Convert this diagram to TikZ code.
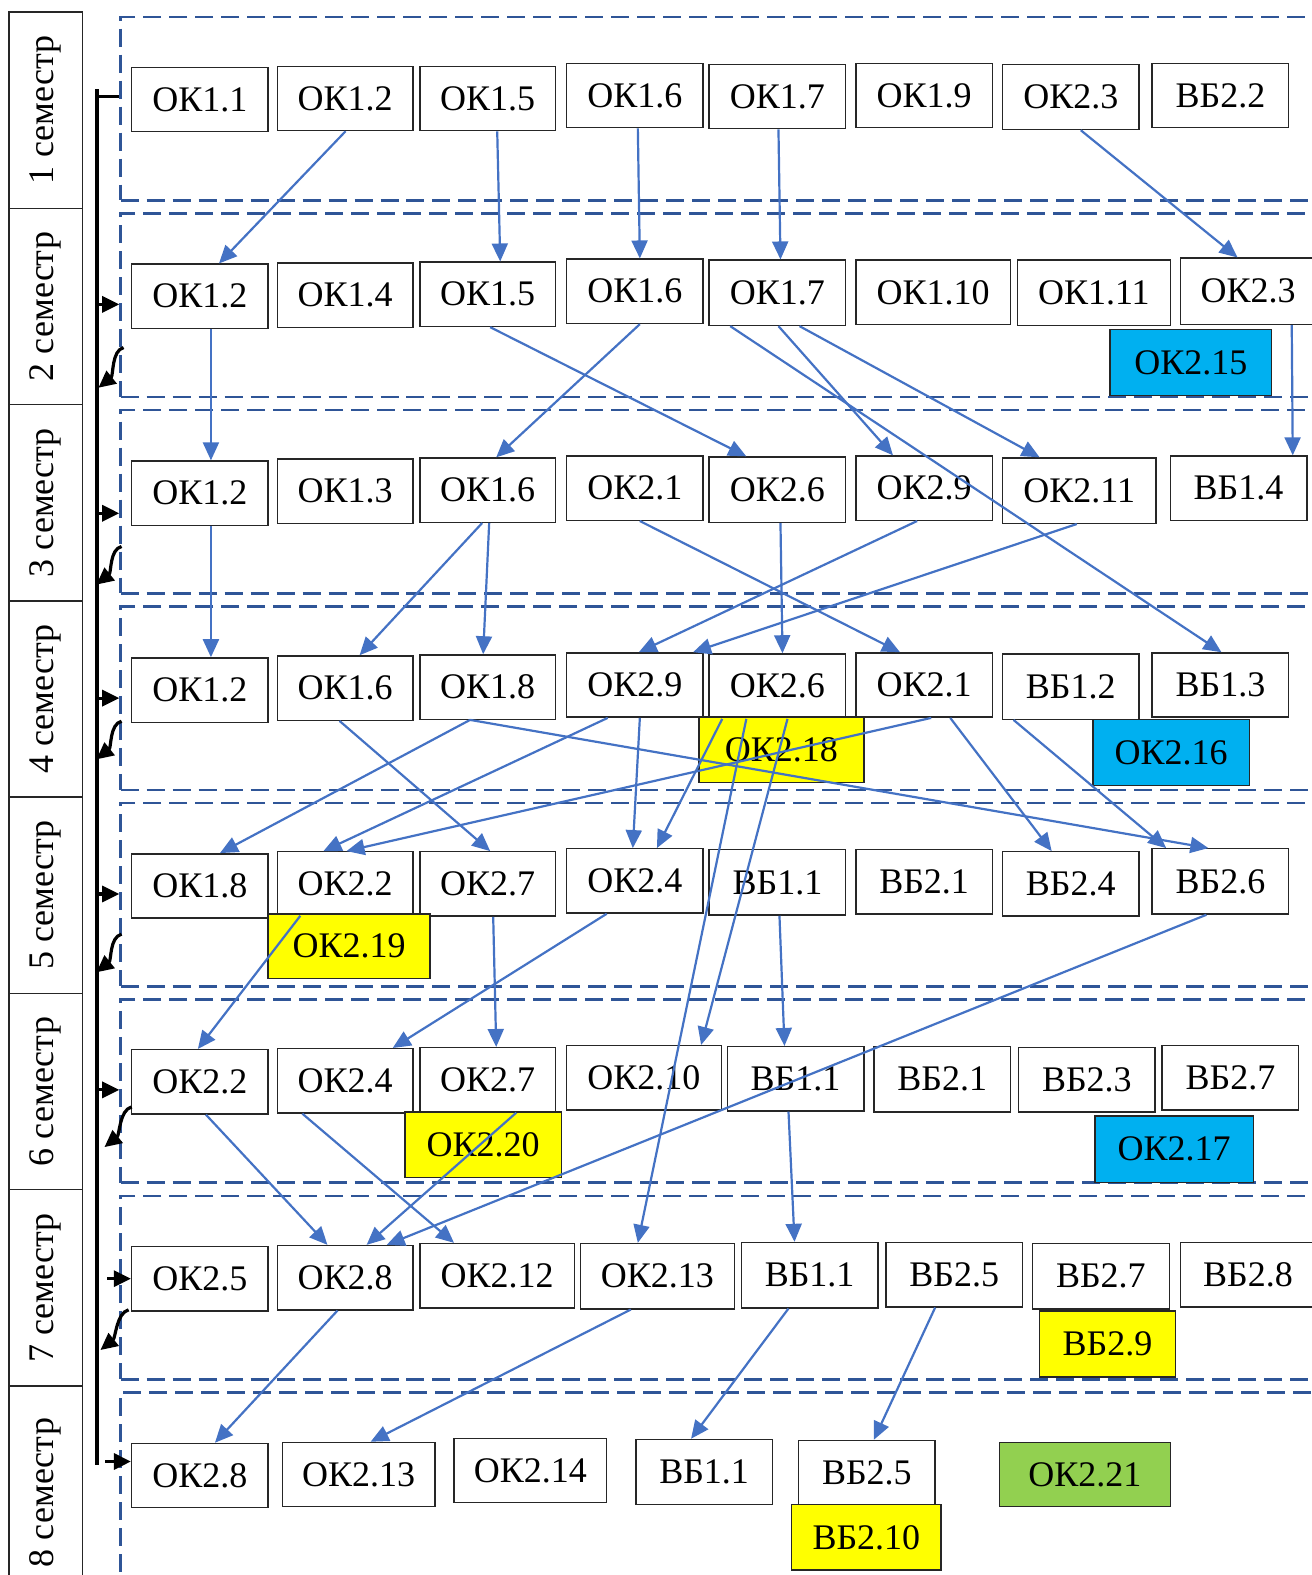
\documentclass[tikz,border=0pt]{standalone}
\usepackage{fontspec}
\setmainfont{Liberation Serif}
\usetikzlibrary{arrows.meta}
\definecolor{linkblue}{HTML}{4472C4}
\definecolor{framecol}{HTML}{2F5597}
\definecolor{ltblue}{HTML}{00B0F0}
\definecolor{ylw}{HTML}{FFFF00}
\definecolor{grn}{HTML}{92D050}
\newcommand\pxu{0.5023pt}
% \kbox[style]{name}{x1}{y1}{x2}{y2}{text}: a course box given by its corners
\newcommand\kbox[7][]{%
  \node[cellbox,#1,minimum width={(#5-#3)*\pxu},minimum height={(#6-#4)*\pxu}]
    (#2) at ({(#3+#5)/2},{(#4+#6)/2}) {#7};}
\tikzset{
  cellbox/.style={draw=black!85,line width=0.7pt,fill=white,inner sep=0pt,
    font=\fontsize{18}{20}\selectfont},
  cyanbox/.style={fill=ltblue},
  ylwbox/.style={fill=ylw},
  grnbox/.style={fill=grn},
  semframe/.style={draw=framecol,line width=1.3pt,dash pattern=on 9pt off 4pt,inner sep=0pt},
  semcell/.style={draw=black!85,line width=0.7pt,inner sep=0pt},
  semtext/.style={rotate=90,font=\fontsize{18}{20}\selectfont,inner sep=0pt},
  linkarrow/.style={draw=linkblue,line width=1.1pt,-{Triangle[length=9pt,width=8pt]}},
  spineline/.style={line width=2pt},
  feedarrow/.style={line width=1.6pt,-{Triangle[length=8.5pt,width=8pt]}},
  retarrow/.style={line width=1.6pt,-{Triangle[length=8.5pt,width=8pt]}},
}
\begin{document}
\begin{tikzpicture}[x=0.5023pt,y=-0.5023pt]
\useasboundingbox (0,0) rectangle (1306,1568);
\clip (0,0) rectangle (1306,1568);

% semester frames
\foreach \k in {1,...,7}{
  \pgfmathsetmacro\ftop{17+195.6*(\k-1)}
  \node[semframe,minimum width={1210*\pxu},minimum height={182.5*\pxu}] (fr\k) at (725,{\ftop+91.25}) {};
}
\node[semframe,minimum width={1210*\pxu},minimum height={214*\pxu}] (fr8) at (725,1493.2) {};

% semester labels
\foreach \k in {1,...,7}{
  \pgfmathsetmacro\ltop{12+195.4*(\k-1)}
  \node[semcell,minimum width={73*\pxu},minimum height={195.4*\pxu}] (lab\k) at (45.5,{\ltop+97.7}) {};
  \node[semtext] (labt\k) at (lab\k.center) {\k\ семестр};
}
\node[semcell,minimum width={73*\pxu},minimum height={212.2*\pxu}] (lab8) at (45.5,1485.9) {};
\node[semtext] (labt8) at (lab8.center) {8 семестр};

% semester 1
\kbox{r1a}{131}{67}{267}{131}{ОК1.1}
\kbox{r1b}{276}{66}{411}{130}{ОК1.2}
\kbox{r1c}{418}{66}{553}{130}{ОК1.5}
\kbox{r1d}{564}{63}{700}{127}{ОК1.6}
\kbox{r1e}{706}{64}{842}{128}{ОК1.7}
\kbox{r1f}{852}{63}{988}{127}{ОК1.9}
\kbox{r1g}{998}{64}{1134}{129}{ОК2.3}
\kbox{r1h}{1147}{63}{1283}{127}{ВБ2.2}
% semester 2
\kbox{r2a}{131}{263}{267}{327}{ОК1.2}
\kbox{r2b}{276}{262}{411}{326}{ОК1.4}
\kbox{r2c}{418}{261}{553}{325}{ОК1.5}
\kbox{r2d}{564}{258}{700}{322}{ОК1.6}
\kbox{r2e}{706}{259}{842}{324}{ОК1.7}
\kbox{r2f}{852}{259}{1006}{323}{ОК1.10}
\kbox{r2g}{1013}{259}{1165}{324}{ОК1.11}
\kbox{r2h}{1175}{257}{1310}{323}{ОК2.3}
\kbox[cyanbox]{r2x}{1105}{328}{1266}{394}{ОК2.15}
% semester 3
\kbox{r3a}{131}{459}{267}{523}{ОК1.2}
\kbox{r3b}{276}{457}{411}{521}{ОК1.3}
\kbox{r3c}{418}{456}{553}{520}{ОК1.6}
\kbox{r3d}{564}{454}{700}{518}{ОК2.1}
\kbox{r3e}{706}{455}{842}{520}{ОК2.6}
\kbox{r3f}{852}{454}{988}{518}{ОК2.9}
\kbox{r3g}{998}{456}{1151}{521}{ОК2.11}
\kbox{r3h}{1165}{454}{1301}{518}{ВБ1.4}
% semester 4
\kbox{r4a}{131}{655}{267}{719}{ОК1.2}
\kbox{r4b}{276}{653}{411}{717}{ОК1.6}
\kbox{r4c}{418}{652}{553}{716}{ОК1.8}
\kbox{r4d}{564}{650}{700}{714}{ОК2.9}
\kbox{r4e}{706}{651}{842}{715}{ОК2.6}
\kbox{r4f}{852}{650}{988}{714}{ОК2.1}
\kbox{r4g}{998}{651}{1134}{716}{ВБ1.2}
\kbox{r4h}{1147}{650}{1283}{714}{ВБ1.3}
\kbox[ylwbox]{r4y}{696}{714}{860}{779}{ОК2.18}
\kbox[cyanbox]{r4x}{1088}{716}{1244}{782}{ОК2.16}
% semester 5
\kbox{r5a}{131}{850}{267}{914}{ОК1.8}
\kbox{r5b}{276}{848}{411}{911}{ОК2.2}
\kbox{r5c}{418}{848}{553}{912}{ОК2.7}
\kbox{r5d}{564}{845}{700}{909}{ОК2.4}
\kbox{r5e}{706}{846}{842}{911}{ВБ1.1}
\kbox{r5f}{852}{846}{988}{910}{ВБ2.1}
\kbox{r5g}{998}{848}{1134}{912}{ВБ2.4}
\kbox{r5h}{1147}{845}{1283}{910}{ВБ2.6}
\kbox[ylwbox]{r5y}{267}{910}{428}{974}{ОК2.19}
% semester 6
\kbox{r6a}{131}{1045}{267}{1109}{ОК2.2}
\kbox{r6b}{276}{1044}{411}{1108}{ОК2.4}
\kbox{r6c}{418}{1043}{553}{1107}{ОК2.7}
\kbox{r6d}{564}{1041}{718}{1105}{ОК2.10}
\kbox{r6e}{724}{1042}{860}{1106}{ВБ1.1}
\kbox{r6f}{870}{1042}{1006}{1107}{ВБ2.1}
\kbox{r6g}{1014}{1043}{1150}{1107}{ВБ2.3}
\kbox{r6h}{1157}{1041}{1293}{1105}{ВБ2.7}
\kbox[ylwbox]{r6y}{403}{1107}{559}{1172}{ОК2.20}
\kbox[cyanbox]{r6x}{1090}{1111}{1248}{1177}{ОК2.17}
% semester 7
\kbox{r7a}{131}{1241}{267}{1305}{ОК2.5}
\kbox{r7b}{276}{1240}{411}{1304}{ОК2.8}
\kbox{r7c}{418}{1238}{572}{1302}{ОК2.12}
\kbox{r7d}{578}{1238}{731}{1303}{ОК2.13}
\kbox{r7e}{738}{1237}{874}{1302}{ВБ1.1}
\kbox{r7f}{882}{1237}{1018}{1301}{ВБ2.5}
\kbox{r7g}{1028}{1238}{1164}{1303}{ВБ2.7}
\kbox{r7h}{1175}{1237}{1310}{1301}{ВБ2.8}
\kbox[ylwbox]{r7y}{1035}{1305}{1170}{1371}{ВБ2.9}
% semester 8
\kbox{r8a}{131}{1437}{267}{1501}{ОК2.8}
\kbox{r8b}{281}{1436}{433}{1500}{ОК2.13}
\kbox{r8c}{452}{1432}{604}{1496}{ОК2.14}
\kbox{r8d}{633}{1433}{769}{1498}{ВБ1.1}
\kbox{r8e}{795}{1434}{931}{1498}{ВБ2.5}
\kbox[grnbox]{r8f}{995}{1436}{1165}{1500}{ОК2.21}
\kbox[ylwbox]{r8y}{788}{1498}{937}{1563}{ВБ2.10}

% timeline spine with entry and return arrows
\coordinate (sptop) at (97,89);
\coordinate (spbot) at (97,1458);
\draw[spineline] (sptop) -- (spbot);
\draw[line width=1.6pt] (sptop |- 0,96) -- (fr1.west |- 0,96);
\foreach \k/\yy in {2/303,3/511,4/695,5/890,6/1085}{
  \coordinate (sp\k) at (97,\yy);
  \draw[feedarrow] (sp\k) -- (sp\k -| fr\k.west);
}
\coordinate (sp7) at (107,1273);
\draw[feedarrow] (sp7) -- (sp7 -| r7a.west);
\coordinate (sp8) at (105,1455);
\draw[feedarrow] (sp8) -- (sp8 -| r8a.west);
\foreach \n/\cx/\cy/\ex/\ey in {2/123/346/98/386,3/121/544/96/582,4/121/718/96/756,
    5/121/930/96/968,6/131/1102/104/1142,7/128/1304/100/1344}{
  \coordinate (rs\n) at (\cx,\cy);
  \coordinate (re\n) at (\ex,\ey);
  \draw[retarrow] (rs\n) .. controls +(-12,3) and +(15,-12) .. (re\n);
}

% prerequisite links
\draw[linkarrow] (r1b.south-|344,0) -- (r2a.north-|218,0);
\draw[linkarrow] (r1c.south-|495,0) -- (r2c.north-|498,0);
\draw[linkarrow] (r1d.south-|635,0) -- (r2d.north-|637,0);
\draw[linkarrow] (r1e.south-|775,0) -- (r2e.north-|777,0);
\draw[linkarrow] (r1g.south-|1076,0) -- (r2h.north-|1232,0);
\draw[linkarrow] (r2a.south-|210,0) -- (r3a.north-|210,0);
\draw[linkarrow] (r2d.south-|637,0) -- (r3c.north-|494,0);
\draw[linkarrow] (r2c.south-|488,0) -- (r3e.north-|743,0);
\draw[linkarrow] (r2e.south-|775,0) -- (r3f.north-|889,0);
\draw[linkarrow] (r2e.south-|796,0) -- (r3g.north-|1035,0);
\draw[linkarrow] (r2e.south-|727,0) -- (r4h.north-|1216,0);
\draw[linkarrow] (r2h.south-|1286,0) -- (r3h.north-|1287,0);
\draw[linkarrow] (r3a.south-|210,0) -- (r4a.north-|210,0);
\draw[linkarrow] (r3c.south-|480,0) -- (r4b.north-|358,0);
\draw[linkarrow] (r3c.south-|487,0) -- (r4c.north-|481,0);
\draw[linkarrow] (r3d.south-|637,0) -- (r4f.north-|896,0);
\draw[linkarrow] (r3e.south-|777,0) -- (r4e.north-|779,0);
\draw[linkarrow] (r3f.south-|913,0) -- (r4d.north-|636,0);
\draw[linkarrow] (r3g.south-|1072,0) -- (r4d.north-|690,0);
\draw[linkarrow] (r4c.south-|468,0) -- (r5a.north-|219,0);
\draw[linkarrow] (r4c.south-|468,0) -- (r5h.north-|1203,0);
\draw[linkarrow] (r4d.south-|605,0) -- (r5b.north-|322,0);
\draw[linkarrow] (r4d.south-|637,0) -- (r5d.north-|630,0);
\draw[linkarrow] (r4b.south-|338,0) -- (r5c.north-|488,0);
\draw[linkarrow] (r4f.south-|927,0) -- (r5b.north-|345,0);
\draw[linkarrow] (r4e.south-|719,0) -- (r5d.north-|654,0);
\draw[linkarrow] (r4e.south-|743,0) -- (r7d.north-|635,0);
\draw[linkarrow] (r4e.south-|784,0) -- (r6d.north-|698,0);
\draw[linkarrow] (r4f.south-|946,0) -- (r5g.north-|1047,0);
\draw[linkarrow] (r4g.south-|1009,0) -- (r5h.north-|1161,0);
\draw[linkarrow] (r5b.south-|299,0) -- (r6a.north-|197,0);
\draw[linkarrow] (r5d.south-|604,0) -- (r6b.north-|391,0);
\draw[linkarrow] (r5c.south-|491,0) -- (r6c.north-|494,0);
\draw[linkarrow] (r5e.south-|776,0) -- (r6e.north-|781,0);
\draw[linkarrow] (r5h.south-|1201,0) -- (r7b.north-|385,0);
\draw[linkarrow] (r6a.south-|205,0) -- (r7b.north-|326,0);
\draw[linkarrow] (r6b.south-|301,0) -- (r7c.north-|452,0);
\draw[linkarrow] (r6c.south-|514,0) -- (r7b.north-|365,0);
\draw[linkarrow] (r6e.south-|785,0) -- (r7e.north-|791,0);
\draw[linkarrow] (r7b.south-|336,0) -- (r8a.north-|214,0);
\draw[linkarrow] (r7d.south-|628,0) -- (r8b.north-|369,0);
\draw[linkarrow] (r7e.south-|785,0) -- (r8d.north-|688,0);
\draw[linkarrow] (r7f.south-|931,0) -- (r8e.north-|870,0);
\end{tikzpicture}
\end{document}
